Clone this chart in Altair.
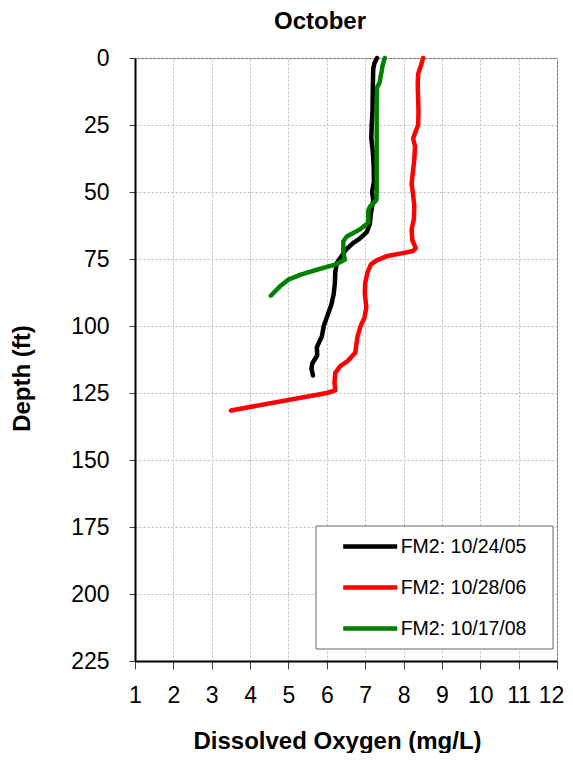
import altair as alt
import pandas as pd

series_labels = ["FM2: 10/24/05", "FM2: 10/28/06", "FM2: 10/17/08"]
series_colors = ["#000000", "#FF0000", "#008000"]

# FM2 10/24/05 (black)
do_05 = [7.31, 7.24, 7.21, 7.20, 7.19, 7.17, 7.16, 7.20, 7.22, 7.23, 7.18, 7.21, 7.15, 7.12, 7.04,
         6.85, 6.69, 6.50, 6.38, 6.26, 6.22, 6.21, 6.18, 6.12, 6.02, 5.92, 5.87, 5.80, 5.74, 5.75,
         5.62, 5.60, 5.64]
depth_05 = [0, 2, 4, 10, 20, 25, 30, 35, 40, 46, 50, 53, 58, 62, 65,
            67.5, 69, 71.5, 74, 76.5, 80, 84, 88, 92, 96, 100, 104, 106, 108, 111,
            114, 116, 118.5]

# FM2 10/28/06 (red)
do_06 = [8.51, 8.45, 8.38, 8.37, 8.38, 8.39, 8.38, 8.30, 8.25, 8.30, 8.28, 8.24, 8.21, 8.24, 8.28,
         8.27, 8.21, 8.23, 8.32, 8.25, 7.91, 7.55, 7.30, 7.15, 7.06, 7.00, 6.99, 7.03, 6.98, 6.88,
         6.80, 6.76, 6.74, 6.55, 6.35, 6.22, 6.20, 6.22, 6.00, 3.50]
depth_06 = [0, 3, 6, 10, 15, 20, 25, 28, 30, 33, 38, 43, 47, 50, 55,
            60, 64, 68, 71, 72, 73, 74, 75.5, 77, 80, 84, 88, 93, 97, 100,
            104, 108, 110, 113, 115, 117.5, 121, 124, 125, 131.5]

# FM2 10/17/08 (green)
do_08 = [7.51, 7.45, 7.43, 7.40, 7.38, 7.31, 7.30, 7.30, 7.30, 7.30, 7.29, 7.20, 7.12, 7.08, 7.08,
         6.86, 6.52, 6.43, 6.43, 6.47, 6.21, 5.74, 5.30, 5.00, 4.78, 4.54]
depth_08 = [0, 3, 5, 7, 9, 11, 20, 30, 40, 50, 53, 54.5, 55.5, 57, 61.5,
            64, 66.6, 68.4, 72.2, 75.3, 77.1, 79, 80.9, 82.7, 85.2, 88.7]

x_ticks = list(range(1, 13))
y_ticks = list(range(0, 226, 25))

rows = []
for lab, dos, deps in zip(series_labels, [do_05, do_06, do_08], [depth_05, depth_06, depth_08]):
    for i, (d, z) in enumerate(zip(dos, deps)):
        rows.append({"series": lab, "do": d, "depth": z, "i": i})
df = pd.DataFrame(rows)

FONT = "Liberation Sans"

x_scale = alt.Scale(domain=[1, 12], nice=False, zero=False)
y_scale = alt.Scale(domain=[0, 225], reverse=True, nice=False, zero=False)

lines = alt.Chart(df).mark_line(strokeWidth=4.5, strokeJoin="round", strokeCap="round").encode(
    x=alt.X("do:Q", scale=x_scale, title="Dissolved Oxygen (mg/L)",
            axis=alt.Axis(values=x_ticks, format="d", tickSize=8, labelPadding=15,
                          labelFlush=False, labelOverlap=False,
                          labelOffset=alt.condition("datum.value == 12", alt.value(-6), alt.value(0)),
                          labelFontSize=23, titleFontSize=24, titleFontWeight="bold",
                          titleX=202, titleY=87, titleBaseline="alphabetic", titleAlign="center")),
    y=alt.Y("depth:Q", scale=y_scale, title="Depth (ft)",
            axis=alt.Axis(values=y_ticks, format="d", tickSize=6, labelPadding=20,
                          labelFlush=False, labelOverlap=False,
                          labelFontSize=23, titleFontSize=24, titleFontWeight="bold",
                          titleX=-113, titleY=320, titleAngle=270, titleBaseline="middle",
                          titleAlign="center")),
    color=alt.Color("series:N",
                    scale=alt.Scale(domain=series_labels, range=series_colors),
                    legend=alt.Legend(title=None, orient="none", legendX=211.7, legendY=465,
                                      padding=0, symbolType="M-1.286,0H1.286", symbolSize=1764,
                                      symbolStrokeWidth=4.5, labelFontSize=19.5, labelFont=FONT,
                                      labelOffset=7, rowPadding=8, labelColor="#000")),
    order=alt.Order("i:Q"),
)

frame = alt.Chart(pd.DataFrame({"a": [0]})).mark_rect(
    fill="white", stroke="#666666", strokeWidth=1
).encode(x=alt.value(181), x2=alt.value(418), y=alt.value(468), y2=alt.value(591))

chart = alt.layer(frame, lines).properties(
    width=422, height=603,
    padding={"left": 127, "top": 50, "right": 8, "bottom": 92},
    autosize=alt.AutoSizeParams(type="none"),
    title=alt.TitleParams("October", fontSize=24, fontWeight="bold", font=FONT,
                          anchor="middle", dx=-26, dy=-9, color="#000"),
).configure_axis(
    labelFont=FONT, titleFont=FONT, labelColor="#000", titleColor="#000",
    domainColor="#000", domainWidth=2, tickColor="#444", tickWidth=1,
    gridColor="#bbbbbb", gridDash=[2, 2], gridWidth=1,
).configure_view(stroke="#666666", strokeWidth=1)

chart.save("out.html", embed_options={"renderer": "svg", "actions": False})
